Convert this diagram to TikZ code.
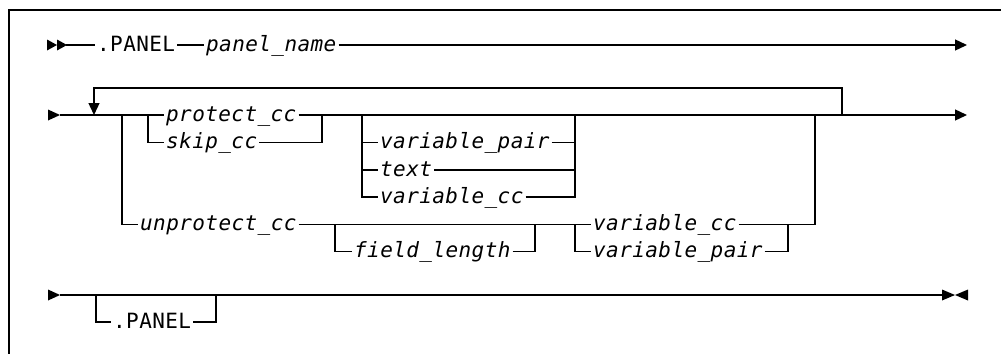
\documentclass[tikz,border=0pt]{standalone}
\usepackage{fontspec}
\newfontfamily\dfont[LetterSpace=2]{DejaVu Sans Mono}
\usetikzlibrary{arrows.meta}
\begin{document}
\begin{tikzpicture}[x=1pt,y=-1pt,line width=1.3pt,
  lbl/.style={font=\fontsize{21}{21}\selectfont\dfont\itshape,inner xsep=1.5pt,inner ysep=0pt,anchor=base west},
  kw/.style={font=\fontsize{21}{21}\selectfont\dfont,inner xsep=1.5pt,inner ysep=0pt,anchor=base west},
  arr/.style={-{Triangle[length=12pt,width=11pt]}},
  tip/.style={fill=black,draw=none}]
\useasboundingbox (0,0) rectangle (1001,354);
% frame
\draw (1001,10) -- (9,10) -- (9,354);
% rows
\coordinate (r0) at (0,115);
\coordinate (r1) at (0,142.5);
\coordinate (r2) at (0,170);
\coordinate (r3) at (0,197);
\coordinate (r4) at (0,224.5);
\coordinate (r5) at (0,251.5);
\coordinate (r6) at (0,322);
% ---------- line 1
\fill[tip] (47,39.5) -- (57,45) -- (47,50.5) -- cycle;
\fill[tip] (57,39.5) -- (67,45) -- (57,50.5) -- cycle;
\coordinate (s1) at (66,45);
\coordinate (e1) at (967,45);
\node[kw] (p1) at (95,51) {.PANEL};
\node[lbl] (pn) at (204,51) {panel\_name};
\draw (s1) -- (p1.west |- s1);
\draw (p1.east |- s1) -- (pn.west |- s1);
\draw[arr] (pn.east |- s1) -- (e1);
% ---------- line 2
\fill[tip] (48,109.5) -- (60,115) -- (48,120.5) -- cycle;
\coordinate (s2) at (60,115);
\coordinate (lp) at (94,115);
\coordinate (j1) at (122,115);
\coordinate (j2) at (148,115);
\coordinate (j3) at (322,115);
\coordinate (j4) at (362,115);
\coordinate (j5) at (575,115);
\coordinate (j6) at (815,115);
\coordinate (j7) at (842,115);
\coordinate (e2) at (967,115);
\node[lbl] (pc) at (164,121) {protect\_cc};
\draw (s2) -- (pc.west |- s2);
\draw[arr] (pc.east |- s2) -- (e2);
% repeat loop
\draw[arr] (j7) -- (j7 |- 0,88) -- (lp |- 0,88) -- (lp);
% protect / skip
\node[lbl] (sk) at (164,148.5) {skip\_cc};
\draw (j2) |- (sk.west |- r1);
\draw (sk.east |- r1) -| (j3);
% variable pair / text / variable cc
\node[lbl] (vp1) at (378,148.5) {variable\_pair};
\node[lbl] (tx) at (378,176) {text};
\node[lbl] (vc1) at (378,203) {variable\_cc};
\draw (j4) |- (vc1.west |- r3);
\draw (j4 |- r1) -- (vp1.west |- r1);
\draw (j4 |- r2) -- (tx.west |- r2);
\draw (vp1.east |- r1) -| (j5);
\draw (tx.east |- r2) -- (j5 |- r2);
\draw (vc1.east |- r3) -| (j5);
% unprotect branch
\coordinate (k1) at (335,224.5);
\coordinate (k2) at (535,224.5);
\coordinate (k3) at (575,224.5);
\coordinate (k4) at (788,224.5);
\node[lbl] (up) at (138,230.5) {unprotect\_cc};
\node[lbl] (vc2) at (591,230.5) {variable\_cc};
\node[lbl] (fl) at (352,257.5) {field\_length};
\node[lbl] (vp2) at (591,257.5) {variable\_pair};
\draw (j1) |- (up.west |- r4);
\draw (up.east |- r4) -- (vc2.west |- r4);
\draw (vc2.east |- r4) -| (j6);
\draw (k1) |- (fl.west |- r5);
\draw (fl.east |- r5) -| (k2);
\draw (k3) |- (vp2.west |- r5);
\draw (vp2.east |- r5) -| (k4);
% ---------- line 3
\fill[tip] (48,289.5) -- (60,295) -- (48,300.5) -- cycle;
\coordinate (s3) at (60,295);
\coordinate (m1) at (96,295);
\coordinate (m2) at (216,295);
\coordinate (e3) at (942,295);
\draw (s3) -- (e3);
\fill[tip] (942,289.5) -- (955,295) -- (942,300.5) -- cycle;
\fill[tip] (968,289.5) -- (955,295) -- (968,300.5) -- cycle;
\node[kw] (p2) at (111,328) {.PANEL};
\draw (m1) |- (p2.west |- r6);
\draw (p2.east |- r6) -| (m2);
\end{tikzpicture}
\end{document}
